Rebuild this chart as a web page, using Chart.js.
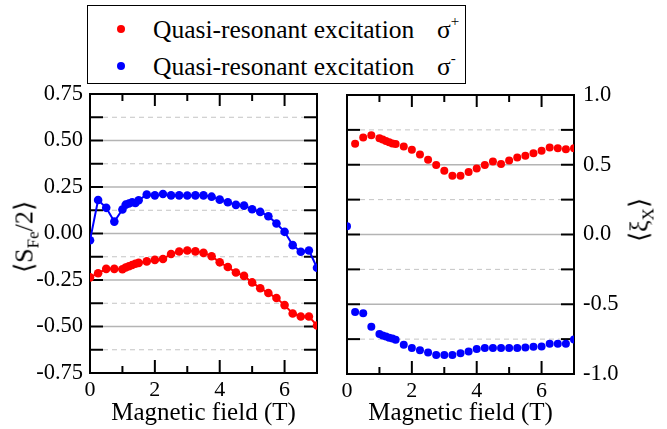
<!DOCTYPE html>
<html><head><meta charset="utf-8">
<script src="https://cdn.jsdelivr.net/npm/chart.js@4"></script>
<style>
html,body{margin:0;padding:0;background:#fff;}
body{width:667px;height:429px;position:relative;overflow:hidden;font-family:"Liberation Serif";color:#000;}
#cl{position:absolute;left:0;top:0;}
#cr{position:absolute;left:330px;top:0;}
#legend{position:absolute;left:87px;top:5px;width:379px;height:79px;box-sizing:border-box;border:1.5px solid #000;background:#fff;}
.dot{position:absolute;width:8px;height:8px;border-radius:50%;}
.ltxt{position:absolute;font-size:25.5px;line-height:normal;white-space:nowrap;}
.ytitle{position:absolute;font-size:26px;line-height:normal;white-space:nowrap;transform:translate(-50%,-50%) rotate(-90deg);}
.sub{font-size:17px;position:relative;top:6px;}
.sup{font-size:15px;position:relative;}
</style></head><body>
<canvas id="cl" width="330" height="429"></canvas>
<canvas id="cr" width="337" height="429"></canvas>
<div id="legend"></div>
<div class="dot" style="left:117px;top:25px;background:#ff0000"></div>
<div class="ltxt" style="left:153px;top:15px">Quasi-resonant excitation</div>
<div class="ltxt" style="left:437px;top:15px">σ<span class="sup" style="top:-12px">+</span></div>
<div class="dot" style="left:117px;top:62px;background:#0000ff"></div>
<div class="ltxt" style="left:153px;top:52px">Quasi-resonant excitation</div>
<div class="ltxt" style="left:437px;top:52px">σ<span class="sup" style="top:-12px">-</span></div>
<div class="ytitle" style="left:24px;top:237px">⟨S<span class="sub">Fe</span>/2⟩</div>
<div class="ytitle" style="left:639px;top:220px">⟨ξ<span class="sub">X</span>⟩</div>
<script>
// ---- data ----
const fieldT = [0,0.25,0.5,0.75,1.0,1.1,1.2,1.3,1.4,1.5,1.75,2.0,2.25,2.5,2.75,3.0,3.25,3.5,3.75,4.0,4.25,4.5,4.75,5.0,5.25,5.5,5.75,6.0,6.25,6.5,6.75,7.0];
const spinFePlus = [-0.236,-0.214,-0.19,-0.19,-0.192,-0.183,-0.176,-0.169,-0.163,-0.158,-0.15,-0.142,-0.137,-0.11,-0.097,-0.091,-0.096,-0.104,-0.122,-0.155,-0.18,-0.21,-0.228,-0.263,-0.294,-0.32,-0.347,-0.385,-0.43,-0.446,-0.446,-0.495];
const spinFeMinus = [-0.036,0.18,0.138,0.064,0.129,0.155,0.161,0.168,0.164,0.179,0.209,0.205,0.212,0.205,0.205,0.204,0.205,0.205,0.198,0.182,0.168,0.154,0.15,0.13,0.116,0.093,0.054,0.009,-0.0625,-0.098,-0.091,-0.184];
const xiPlus = [null,0.65,0.695,0.712,0.69,0.681,0.671,0.662,0.652,0.648,0.631,0.607,0.574,0.536,0.498,0.457,0.421,0.421,0.448,0.474,0.498,0.524,0.505,0.531,0.552,0.564,0.583,0.6,0.624,0.619,0.612,0.619];
const xiMinus = [0.06,-0.555,-0.564,-0.662,-0.714,-0.724,-0.731,-0.74,-0.745,-0.755,-0.79,-0.814,-0.829,-0.845,-0.864,-0.864,-0.864,-0.852,-0.838,-0.821,-0.814,-0.814,-0.814,-0.814,-0.814,-0.81,-0.805,-0.802,-0.783,-0.783,-0.783,-0.752];
// ---- ticks ----
const xLabelTicks = [0,2,4,6];
const xMajorMarks = [2,4,6];
const xMinorMarks = [1,3,5];
const leftYLabels = [-0.75,-0.5,-0.25,0,0.25,0.5,0.75];
const leftYMarks = [-0.625,-0.5,-0.375,-0.25,-0.125,0,0.125,0.25,0.375,0.5,0.625];
const leftSolid = [-0.5,-0.25,0,0.25,0.5];
const leftDashed = [-0.625,-0.375,-0.125,0.125,0.375,0.625];
const rightYLabels = [-1,-0.5,0,0.5,1];
const rightYMarks = [-0.75,-0.5,-0.25,0,0.25,0.5,0.75];
const rightSolid = [-0.5,0,0.5];
const rightDashed = [-0.75,-0.25,0.25,0.75];

const RED = '#ff0000', BLUE = '#0000ff';
const FONT = '"Liberation Serif"';

function pts(ys){ const out=[]; ys.forEach((y,i)=>{ if(y!==null) out.push({x:fieldT[i], y:y}); }); return out; }

function framePlugin(cfg){
  return { id:'frame', beforeDatasetsDraw(chart){
    const ctx=chart.ctx, a=chart.chartArea, xs=chart.scales.x, ys=chart.scales.y;
    ctx.save();
    const line=(x1,y1,x2,y2)=>{ctx.beginPath();ctx.moveTo(x1,y1);ctx.lineTo(x2,y2);ctx.stroke();};
    ctx.lineWidth=1.5; ctx.strokeStyle='#b4b4b4'; ctx.setLineDash([]);
    cfg.solid.forEach(v=>{const y=ys.getPixelForValue(v); line(a.left+13,y,a.right-13,y);});
    ctx.lineWidth=1; ctx.strokeStyle='#c4c4c4'; ctx.setLineDash([5,4]);
    cfg.dashed.forEach(v=>{const y=ys.getPixelForValue(v); line(a.left+13,y,a.right-13,y);});
    ctx.setLineDash([]); ctx.strokeStyle='#000'; ctx.lineWidth=2;
    cfg.yMarks.forEach(v=>{const y=ys.getPixelForValue(v); line(a.left,y,a.left+13,y); line(a.right-13,y,a.right,y);});
    xMajorMarks.forEach(v=>{const x=xs.getPixelForValue(v); line(x,a.top,x,a.top+12); line(x,a.bottom,x,a.bottom-13);});
    xMinorMarks.forEach(v=>{const x=xs.getPixelForValue(v); line(x,a.top,x,a.top+7); line(x,a.bottom,x,a.bottom-7);});
    ctx.strokeRect(a.left,a.top,a.right-a.left,a.bottom-a.top);
    ctx.restore();
  }};
}

function xScale(h){
  return { type:'linear', min:0, max:7,
    afterBuildTicks(s){ s.ticks = xLabelTicks.map(v=>({value:v})); },
    afterFit(s){ s.height=h; },
    grid:{display:false, drawTicks:false}, border:{display:false},
    ticks:{font:{family:FONT,size:22}, color:'#000', padding:4, maxRotation:0, callback:v=>String(v)},
    title:{display:true, text:'Magnetic field (T)', font:{family:FONT,size:25}, color:'#000', padding:{top:0,bottom:1}}
  };
}

Chart.defaults.animation=false;

new Chart(document.getElementById('cl'), {
  type:'scatter',
  data:{datasets:[
    {data:pts(spinFeMinus), showLine:true, borderColor:BLUE, backgroundColor:BLUE, borderWidth:2, pointRadius:4.3, pointBorderWidth:0, clip:0},
    {data:pts(spinFePlus), showLine:true, borderColor:RED, backgroundColor:RED, borderWidth:2, pointRadius:4.3, pointBorderWidth:0, clip:0}
  ]},
  options:{responsive:false, animation:false, events:[],
    layout:{padding:{top:94,right:13,left:0,bottom:0}},
    plugins:{legend:{display:false}, tooltip:{enabled:false}},
    scales:{
      x:xScale(56),
      y:{type:'linear', min:-0.75, max:0.75, position:'left',
        afterBuildTicks(s){ s.ticks = leftYLabels.map(v=>({value:v})); },
        afterFit(s){ s.width=90; },
        grid:{display:false, drawTicks:false}, border:{display:false},
        ticks:{font:{family:FONT,size:22.5}, color:'#000', padding:7, callback:v=>Number(v).toFixed(2)}
      }
    }
  },
  plugins:[framePlugin({solid:leftSolid, dashed:leftDashed, yMarks:leftYMarks})]
});

new Chart(document.getElementById('cr'), {
  type:'scatter',
  data:{datasets:[
    {data:pts(xiPlus), showLine:false, borderColor:RED, backgroundColor:RED, pointRadius:4, pointBorderWidth:0, clip:0},
    {data:pts(xiMinus), showLine:false, borderColor:BLUE, backgroundColor:BLUE, pointRadius:4, pointBorderWidth:0, clip:0}
  ]},
  options:{responsive:false, animation:false, events:[],
    layout:{padding:{top:95,right:0,left:17,bottom:0}},
    plugins:{legend:{display:false}, tooltip:{enabled:false}},
    scales:{
      x:xScale(55),
      y:{type:'linear', min:-1, max:1, position:'right',
        afterBuildTicks(s){ s.ticks = rightYLabels.map(v=>({value:v})); },
        afterFit(s){ s.width=93; },
        grid:{display:false, drawTicks:false}, border:{display:false},
        ticks:{font:{family:FONT,size:22.5}, color:'#000', padding:9, callback:v=>Number(v).toFixed(1)}
      }
    }
  },
  plugins:[framePlugin({solid:rightSolid, dashed:rightDashed, yMarks:rightYMarks})]
});
</script>
</body></html>
